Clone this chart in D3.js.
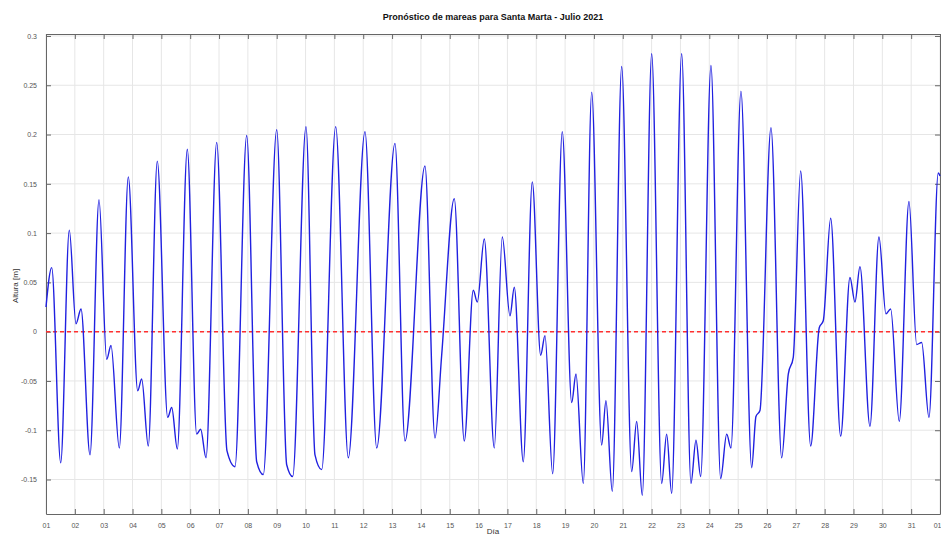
<!DOCTYPE html>
<html>
<head>
<meta charset="utf-8">
<script src="https://cdn.jsdelivr.net/npm/d3@7"></script>
<style>
  body { margin: 0; background: #fff; }
  text { font-family: "Liberation Sans", Arial, sans-serif; }
</style>
</head>
<body>
<div id="chart"></div>
<script>
// turning points of the tide curve (day of month, metres)
let tideDays = [
  1.000, 1.198, 1.510, 1.808, 2.040, 2.214, 2.526, 2.838, 3.105, 3.254,
  3.542, 3.854, 4.180, 4.318, 4.547, 4.859, 5.220, 5.359, 5.553, 5.900,
  6.225, 6.364, 6.548, 6.919, 7.276, 7.553, 7.959, 8.306, 8.535, 9.000,
  9.346, 9.554, 10.015, 10.327, 10.560, 11.045, 11.482, 12.061, 12.467, 13.101,
  13.448, 14.141, 14.488, 14.720, 15.157, 15.504, 15.816, 15.955, 16.198, 16.544,
  16.822, 17.089, 17.238, 17.550, 17.862, 18.153, 18.302, 18.569, 18.902, 19.228,
  19.377, 19.631, 19.922, 20.268, 20.417, 20.636, 20.962, 21.309, 21.482, 21.676,
  22.002, 22.349, 22.522, 22.695, 23.042, 23.365, 23.538, 23.701, 24.058, 24.394,
  24.603, 24.752, 25.098, 25.470, 25.618, 25.757, 26.139, 26.510, 26.739, 26.912,
  27.168, 27.515, 27.813, 27.952, 28.209, 28.556, 28.878, 29.051, 29.225, 29.571,
  29.883, 30.126, 30.289, 30.588, 30.924, 31.191, 31.364, 31.617, 31.940, 32.000
];
let tideHeights = [
  0.025, 0.065, -0.133, 0.103, 0.008, 0.023, -0.125, 0.134, -0.028, -0.014,
  -0.118, 0.157, -0.060, -0.048, -0.116, 0.173, -0.087, -0.077, -0.119, 0.185,
  -0.104, -0.099, -0.128, 0.192, -0.121, -0.137, 0.199, -0.132, -0.145, 0.205,
  -0.135, -0.147, 0.208, -0.125, -0.140, 0.208, -0.128, 0.203, -0.118, 0.191,
  -0.111, 0.168, -0.108, -0.024, 0.135, -0.111, 0.042, 0.030, 0.094, -0.118,
  0.096, 0.016, 0.045, -0.132, 0.152, -0.024, -0.004, -0.144, 0.203, -0.072,
  -0.043, -0.154, 0.243, -0.115, -0.070, -0.162, 0.269, -0.142, -0.091, -0.166,
  0.282, -0.154, -0.104, -0.164, 0.282, -0.154, -0.110, -0.147, 0.270, -0.149,
  -0.104, -0.118, 0.244, -0.138, -0.086, -0.080, 0.207, -0.128, -0.043, -0.026,
  0.163, -0.116, 0.004, 0.011, 0.115, -0.106, 0.055, 0.030, 0.066, -0.096,
  0.096, 0.018, 0.023, -0.091, 0.132, -0.013, -0.011, -0.087, 0.161, 0.158
];

let yTicks = [-0.15, -0.1, -0.05, 0, 0.05, 0.1, 0.15, 0.2, 0.25, 0.3];
let dayTicks = d3.range(1, 33);
let dayLabels = ["01","02","03","04","05","06","07","08","09","10","11","12","13","14","15","16",
                 "17","18","19","20","21","22","23","24","25","26","27","28","29","30","31","01"];

let dim = { width: 941, height: 537 };
let plot = { left: 46, right: 940, top: 34, bottom: 514 };

let svg = d3.select('#chart').append('svg')
    .attr('width', dim.width)
    .attr('height', dim.height);

let scaleX = d3.scaleLinear()
    .domain([1, 32])
    .range([plot.left, plot.right]);

let scaleY = d3.scaleLinear()
    .domain([-0.185, 0.302])
    .range([plot.bottom, plot.top]);

// grid
svg.append('g').selectAll('line')
    .data(dayTicks)
    .join('line')
    .attr('x1', d => scaleX(d)).attr('x2', d => scaleX(d))
    .attr('y1', plot.top).attr('y2', plot.bottom)
    .attr('stroke', '#e6e6e6').attr('stroke-width', 1);

svg.append('g').selectAll('line')
    .data(yTicks)
    .join('line')
    .attr('x1', plot.left).attr('x2', plot.right)
    .attr('y1', d => scaleY(d)).attr('y2', d => scaleY(d))
    .attr('stroke', '#e6e6e6').attr('stroke-width', 1);

// axes, ticks pointing inward like matlab
let axisBottom = svg.append('g')
    .attr('transform', `translate(0,${plot.bottom})`)
    .call(d3.axisBottom(scaleX).tickValues(dayTicks).tickSizeInner(-5).tickSizeOuter(0)
        .tickPadding(9).tickFormat((d, i) => dayLabels[i]));

// last label sits on the right edge, keep it inside
axisBottom.selectAll('.tick text')
    .filter(d => d === 32)
    .attr('text-anchor', 'end')
    .attr('dx', 1);

let axisTop = svg.append('g')
    .attr('transform', `translate(0,${plot.top})`)
    .call(d3.axisTop(scaleX).tickValues(dayTicks).tickSizeInner(-5).tickSizeOuter(0).tickFormat(''));

let axisLeft = svg.append('g')
    .attr('transform', `translate(${plot.left},0)`)
    .call(d3.axisLeft(scaleY).tickValues(yTicks).tickSizeInner(-5).tickSizeOuter(0)
        .tickPadding(9).tickFormat(d => String(+d.toFixed(2))));

let axisRight = svg.append('g')
    .attr('transform', `translate(${plot.right},0)`)
    .call(d3.axisRight(scaleY).tickValues(yTicks).tickSizeInner(-5).tickSizeOuter(0).tickFormat(''));

svg.selectAll('.domain').attr('stroke', '#666');
svg.selectAll('.tick line').attr('stroke', '#666');
svg.selectAll('.tick text').attr('fill', '#555').attr('font-size', 7);

// zero reference line
svg.append('line')
    .attr('x1', plot.left).attr('x2', plot.right)
    .attr('y1', scaleY(0)).attr('y2', scaleY(0))
    .attr('stroke', '#ff3030').attr('stroke-width', 1.5)
    .attr('stroke-dasharray', '4,3');

// tide curve
let points = tideDays.map((d, i) => [d, tideHeights[i]]);

let line = d3.line()
    .x(d => scaleX(d[0]))
    .y(d => scaleY(d[1]))
    .curve(d3.curveMonotoneX);

svg.append('path')
    .datum(points)
    .attr('d', line)
    .attr('fill', 'none')
    .attr('stroke', '#2020e0')
    .attr('stroke-width', 1.4);

// labels
svg.append('text')
    .attr('x', (plot.left + plot.right) / 2)
    .attr('y', 20)
    .attr('text-anchor', 'middle')
    .attr('font-size', 9)
    .attr('font-weight', 'bold')
    .attr('fill', '#111')
    .text('Pronóstico de mareas para Santa Marta - Julio 2021');

svg.append('text')
    .attr('x', (plot.left + plot.right) / 2)
    .attr('y', 534)
    .attr('text-anchor', 'middle')
    .attr('font-size', 8)
    .attr('fill', '#333')
    .text('Día');

svg.append('text')
    .attr('transform', `translate(18,${(plot.top + plot.bottom) / 2 + 12}) rotate(-90)`)
    .attr('text-anchor', 'middle')
    .attr('font-size', 8)
    .attr('fill', '#333')
    .text('Altura [m]');
</script>
</body>
</html>
